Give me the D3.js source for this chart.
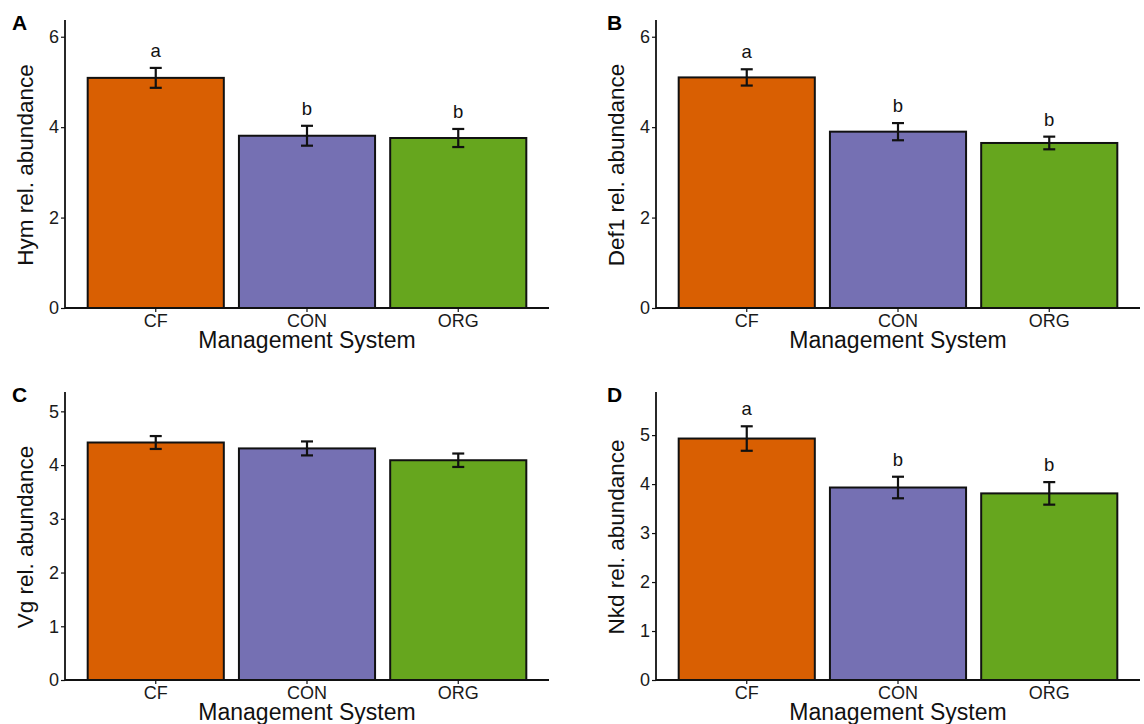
<!DOCTYPE html>
<html>
    <head>
        <meta charset="UTF-8" />
        <script src="https://cdn.jsdelivr.net/npm/d3@7"></script>
        <style>
            body { margin: 0; background: #fff; }
            text { font-family: "Liberation Sans", Arial, sans-serif; }
        </style>
    </head>
    <body>
        <svg id="chart" width="1144" height="724"></svg>
        <script>
            // categories and colours
            var systems = ["CF", "CON", "ORG"]
            var barColors = ["#D95F02", "#7570B3", "#66A61E"]

            // panel letters and y-axis titles
            var panelLetters = ["A", "B", "C", "D"]
            var yTitles = ["Hym rel. abundance", "Def1 rel. abundance", "Vg rel. abundance", "Nkd rel. abundance"]

            // means and standard errors
            var hymMean = [5.09, 3.81, 3.76]
            var hymSe = [0.22, 0.22, 0.20]
            var def1Mean = [5.10, 3.90, 3.65]
            var def1Se = [0.18, 0.19, 0.14]
            var vgMean = [4.42, 4.31, 4.09]
            var vgSe = [0.12, 0.13, 0.125]
            var nkdMean = [4.93, 3.93, 3.81]
            var nkdSe = [0.25, 0.22, 0.23]

            // significance letters
            var hymLetters = ["a", "b", "b"]
            var def1Letters = ["a", "b", "b"]
            var vgLetters = ["", "", ""]
            var nkdLetters = ["a", "b", "b"]

            // y ticks and upper limits
            var ticksAB = [0, 2, 4, 6]
            var ticksCD = [0, 1, 2, 3, 4, 5]
            var yMax = [6.37, 6.37, 5.36, 5.88]

            var panels = [
                { mean: hymMean, se: hymSe, letters: hymLetters, ticks: ticksAB },
                { mean: def1Mean, se: def1Se, letters: def1Letters, ticks: ticksAB },
                { mean: vgMean, se: vgSe, letters: vgLetters, ticks: ticksCD },
                { mean: nkdMean, se: nkdSe, letters: nkdLetters, ticks: ticksCD }
            ]

            var svg = d3.select("#chart")
            var plotW = 484, plotH = 288
            var lefts = [65, 656, 65, 656]
            var tops = [20, 20, 392, 392]

            panels.forEach(function (p, k) {
                var x0 = lefts[k], y0 = tops[k]
                var g = svg.append("g").attr("transform", "translate(" + x0 + "," + y0 + ")")

                var xScale = d3.scaleBand().domain(systems).range([0, plotW])
                    .paddingInner(0.1).paddingOuter(0.15)
                var yScale = d3.scaleLinear().domain([0, yMax[k]]).range([plotH, 0])

                var rows = systems.map(function (s, i) {
                    return { sys: s, mean: p.mean[i], se: p.se[i], letter: p.letters[i], color: barColors[i] }
                })

                g.selectAll("rect.bar")
                    .data(rows)
                    .enter()
                    .append("rect")
                    .attr("class", "bar")
                    .attr("x", d => xScale(d.sys))
                    .attr("y", d => yScale(d.mean))
                    .attr("width", xScale.bandwidth())
                    .attr("height", d => plotH - yScale(d.mean))
                    .attr("fill", d => d.color)
                    .attr("stroke", "#111")
                    .attr("stroke-width", 2)

                // error bars
                var capHalf = 6
                var eb = g.selectAll("g.err").data(rows).enter().append("g").attr("class", "err")
                eb.append("line")
                    .attr("x1", d => xScale(d.sys) + xScale.bandwidth() / 2)
                    .attr("x2", d => xScale(d.sys) + xScale.bandwidth() / 2)
                    .attr("y1", d => yScale(d.mean + d.se))
                    .attr("y2", d => yScale(d.mean - d.se))
                eb.append("line")
                    .attr("x1", d => xScale(d.sys) + xScale.bandwidth() / 2 - capHalf)
                    .attr("x2", d => xScale(d.sys) + xScale.bandwidth() / 2 + capHalf)
                    .attr("y1", d => yScale(d.mean + d.se))
                    .attr("y2", d => yScale(d.mean + d.se))
                eb.append("line")
                    .attr("x1", d => xScale(d.sys) + xScale.bandwidth() / 2 - capHalf)
                    .attr("x2", d => xScale(d.sys) + xScale.bandwidth() / 2 + capHalf)
                    .attr("y1", d => yScale(d.mean - d.se))
                    .attr("y2", d => yScale(d.mean - d.se))
                eb.selectAll("line").attr("stroke", "#111").attr("stroke-width", 2.2)

                g.selectAll("text.sig")
                    .data(rows.filter(d => d.letter))
                    .enter()
                    .append("text")
                    .attr("class", "sig")
                    .attr("x", d => xScale(d.sys) + xScale.bandwidth() / 2)
                    .attr("y", d => yScale(d.mean + d.se) - 11)
                    .attr("text-anchor", "middle")
                    .style("font-size", "18.5px")
                    .style("fill", "#111")
                    .text(d => d.letter)

                // axes
                var xAxis = d3.axisBottom(xScale).tickSize(4).tickPadding(2).tickSizeOuter(0)
                var yAxis = d3.axisLeft(yScale).tickValues(p.ticks).tickSize(4).tickPadding(2)
                    .tickSizeOuter(0).tickFormat(d3.format("d"))

                var gx = g.append("g").attr("transform", "translate(0," + plotH + ")").call(xAxis)
                var gy = g.append("g").call(yAxis)
                ;[gx, gy].forEach(function (a) {
                    a.select(".domain").attr("stroke", "#111").attr("stroke-width", 1.8)
                    a.selectAll(".tick line").attr("stroke", "#111").attr("stroke-width", 1.2)
                    a.selectAll(".tick text").style("font-size", "18px").style("fill", "#1a1a1a")
                        .style("font-family", "'Liberation Sans', Arial, sans-serif")
                })
                gy.select(".domain").attr("d", "M0," + plotH + "V0")
                gx.select(".domain").attr("d", "M0,0H" + plotW)

                g.append("text")
                    .attr("x", plotW / 2)
                    .attr("y", plotH + 40)
                    .attr("text-anchor", "middle")
                    .style("font-size", "23px")
                    .style("fill", "#111")
                    .text("Management System")

                g.append("text")
                    .attr("transform", "translate(" + (-32) + "," + (plotH / 2 + 1) + ") rotate(-90)")
                    .attr("text-anchor", "middle")
                    .style("font-size", "22.5px")
                    .style("fill", "#111")
                    .text(yTitles[k])

                g.append("text")
                    .attr("x", k % 2 == 0 ? -53 : -49)
                    .attr("y", 10)
                    .style("font-size", "21px")
                    .style("font-weight", "bold")
                    .style("fill", "#000")
                    .text(panelLetters[k])
            })
        </script>
    </body>
</html>
